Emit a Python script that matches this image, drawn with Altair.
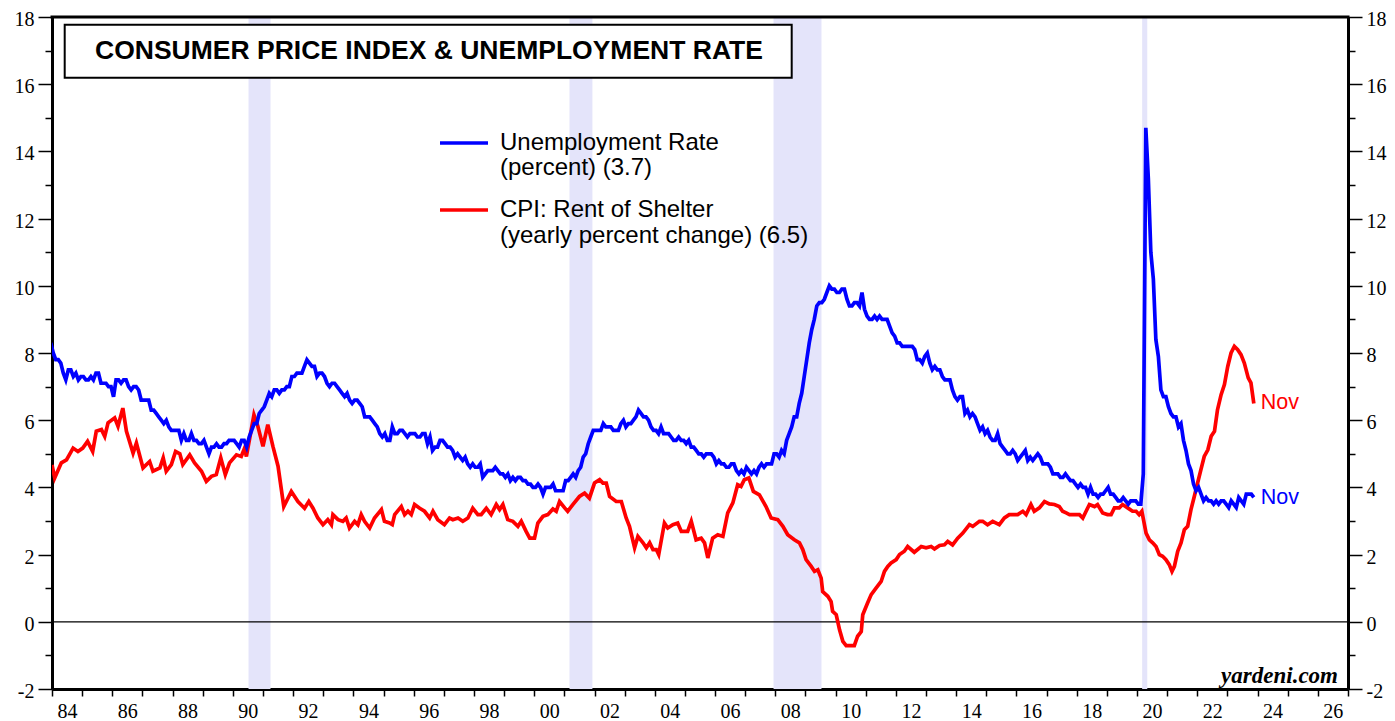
import altair as alt
import pandas as pd

# ---------------- data ----------------
# Unemployment rate, monthly, Dec 1983 .. Nov 2023 (percent)
unemployment_first_month = (1983, 12)
unemployment = [
    8.3,
    8.0, 7.8, 7.8, 7.7, 7.4, 7.2, 7.5, 7.5, 7.3, 7.4, 7.2, 7.3,
    7.3, 7.2, 7.2, 7.3, 7.2, 7.4, 7.4, 7.1, 7.1, 7.1, 7.0, 7.0,
    6.7, 7.2, 7.2, 7.1, 7.2, 7.2, 7.0, 6.9, 7.0, 7.0, 6.9, 6.6,
    6.6, 6.6, 6.6, 6.3, 6.3, 6.2, 6.1, 6.0, 5.9, 6.0, 5.8, 5.7,
    5.7, 5.7, 5.7, 5.4, 5.6, 5.4, 5.4, 5.6, 5.4, 5.4, 5.3, 5.3,
    5.4, 5.2, 5.0, 5.2, 5.2, 5.3, 5.2, 5.2, 5.3, 5.3, 5.4, 5.4,
    5.4, 5.3, 5.2, 5.4, 5.4, 5.2, 5.5, 5.7, 5.9, 5.9, 6.2, 6.3,
    6.4, 6.6, 6.8, 6.7, 6.9, 6.9, 6.8, 6.9, 6.9, 7.0, 7.0, 7.3,
    7.3, 7.4, 7.4, 7.4, 7.6, 7.8, 7.7, 7.6, 7.6, 7.3, 7.4, 7.4,
    7.3, 7.1, 7.0, 7.1, 7.1, 7.0, 6.9, 6.8, 6.7, 6.8, 6.6, 6.5,
    6.6, 6.6, 6.5, 6.4, 6.1, 6.1, 6.1, 6.0, 5.9, 5.8, 5.6, 5.5,
    5.6, 5.4, 5.4, 5.8, 5.6, 5.6, 5.7, 5.7, 5.6, 5.5, 5.6, 5.6,
    5.6, 5.5, 5.5, 5.6, 5.6, 5.3, 5.5, 5.1, 5.2, 5.2, 5.4, 5.4,
    5.3, 5.2, 5.2, 5.1, 4.9, 5.0, 4.9, 4.8, 4.9, 4.7, 4.6, 4.7,
    4.6, 4.6, 4.7, 4.3, 4.4, 4.5, 4.5, 4.5, 4.6, 4.5, 4.4, 4.4,
    4.3, 4.4, 4.2, 4.3, 4.2, 4.3, 4.3, 4.2, 4.2, 4.1, 4.1, 4.0,
    4.0, 4.1, 4.0, 3.8, 4.0, 4.0, 4.0, 4.1, 3.9, 3.9, 3.9, 3.9,
    4.2, 4.2, 4.3, 4.4, 4.3, 4.5, 4.6, 4.9, 5.0, 5.3, 5.5, 5.7,
    5.7, 5.7, 5.7, 5.9, 5.8, 5.8, 5.8, 5.7, 5.7, 5.7, 5.9, 6.0,
    5.8, 5.9, 5.9, 6.0, 6.1, 6.3, 6.2, 6.1, 6.1, 6.0, 5.8, 5.7,
    5.7, 5.6, 5.8, 5.6, 5.6, 5.6, 5.5, 5.4, 5.4, 5.5, 5.4, 5.4,
    5.3, 5.4, 5.2, 5.2, 5.1, 5.0, 5.0, 4.9, 5.0, 5.0, 5.0, 4.9,
    4.7, 4.8, 4.7, 4.7, 4.6, 4.6, 4.7, 4.7, 4.5, 4.4, 4.5, 4.4,
    4.6, 4.5, 4.4, 4.5, 4.4, 4.6, 4.7, 4.6, 4.7, 4.7, 4.7, 5.0,
    5.0, 4.9, 5.1, 5.0, 5.4, 5.6, 5.8, 6.1, 6.1, 6.5, 6.8, 7.3,
    7.8, 8.3, 8.7, 9.0, 9.4, 9.5, 9.5, 9.6, 9.8, 10.0, 9.9, 9.9,
    9.8, 9.8, 9.9, 9.9, 9.6, 9.4, 9.4, 9.5, 9.5, 9.4, 9.8, 9.3,
    9.1, 9.0, 9.0, 9.1, 9.0, 9.1, 9.0, 9.0, 9.0, 8.8, 8.6, 8.5,
    8.3, 8.3, 8.2, 8.2, 8.2, 8.2, 8.2, 8.1, 7.8, 7.8, 7.7, 7.9,
    8.0, 7.7, 7.5, 7.6, 7.5, 7.5, 7.3, 7.2, 7.2, 7.2, 6.9, 6.7,
    6.6, 6.7, 6.7, 6.2, 6.3, 6.1, 6.2, 6.1, 5.9, 5.7, 5.8, 5.6,
    5.7, 5.5, 5.4, 5.4, 5.6, 5.3, 5.2, 5.1, 5.0, 5.0, 5.1, 5.0,
    4.8, 4.9, 5.0, 5.1, 4.8, 4.9, 4.8, 4.9, 5.0, 4.9, 4.7, 4.7,
    4.7, 4.6, 4.4, 4.4, 4.4, 4.3, 4.3, 4.4, 4.3, 4.2, 4.2, 4.1,
    4.0, 4.1, 4.0, 4.0, 3.8, 4.0, 3.8, 3.8, 3.7, 3.8, 3.8, 3.9,
    4.0, 3.8, 3.8, 3.7, 3.6, 3.6, 3.7, 3.6, 3.5, 3.6, 3.6, 3.6,
    3.5, 3.5, 4.4, 14.7, 13.2, 11.0, 10.2, 8.4, 7.9, 6.9, 6.7, 6.7,
    6.4, 6.2, 6.1, 6.1, 5.8, 5.9, 5.4, 5.1, 4.7, 4.5, 4.1, 3.9,
    4.0, 3.8, 3.6, 3.7, 3.6, 3.6, 3.5, 3.6, 3.5, 3.6, 3.6, 3.5,
    3.4, 3.6, 3.5, 3.4, 3.7, 3.6, 3.5, 3.8, 3.8, 3.8, 3.7,
]

# CPI: Rent of shelter, yearly % change (decimal years)
shelter_dates = [
    1984.00, 1984.09, 1984.31, 1984.48, 1984.70, 1984.86, 1985.02, 1985.18, 1985.35, 1985.47,
    1985.64, 1985.75, 1985.86, 1986.08, 1986.19, 1986.35, 1986.47, 1986.69, 1986.80, 1987.02,
    1987.24, 1987.35, 1987.58, 1987.69, 1987.79, 1987.96, 1988.10, 1988.24, 1988.34, 1988.57,
    1988.73, 1988.96, 1989.12, 1989.29, 1989.45, 1989.60, 1989.75, 1989.89, 1990.12, 1990.28,
    1990.39, 1990.45, 1990.70, 1990.83, 1991.00, 1991.16, 1991.33, 1991.50, 1991.69, 1991.94,
    1992.16, 1992.38, 1992.52, 1992.66, 1992.82, 1992.99, 1993.15, 1993.27, 1993.32, 1993.49,
    1993.65, 1993.76, 1993.87, 1994.04, 1994.15, 1994.26, 1994.37, 1994.54, 1994.70, 1994.93,
    1995.03, 1995.20, 1995.29, 1995.37, 1995.59, 1995.70, 1995.81, 1995.92, 1996.03, 1996.20,
    1996.36, 1996.53, 1996.64, 1996.80, 1997.02, 1997.19, 1997.30, 1997.47, 1997.63, 1997.80,
    1997.96, 1998.13, 1998.24, 1998.41, 1998.57, 1998.74, 1998.85, 1998.96, 1999.12, 1999.29,
    1999.46, 1999.57, 1999.73, 1999.85, 2000.01, 2000.12, 2000.29, 2000.45, 2000.62, 2000.73,
    2000.84, 2001.01, 2001.11, 2001.28, 2001.50, 2001.67, 2001.83, 2002.00, 2002.17, 2002.28,
    2002.39, 2002.50, 2002.72, 2002.89, 2003.05, 2003.16, 2003.33, 2003.44, 2003.61, 2003.72,
    2003.83, 2003.94, 2004.05, 2004.13, 2004.32, 2004.43, 2004.60, 2004.76, 2004.88, 2005.09,
    2005.21, 2005.37, 2005.54, 2005.65, 2005.76, 2005.92, 2006.09, 2006.26, 2006.42, 2006.59,
    2006.75, 2006.86, 2006.97, 2007.12, 2007.27, 2007.47, 2007.69, 2007.86, 2008.08, 2008.25,
    2008.41, 2008.63, 2008.80, 2008.91, 2009.02, 2009.19, 2009.30, 2009.41, 2009.52, 2009.57,
    2009.74, 2009.85, 2009.90, 2010.02, 2010.13, 2010.24, 2010.35, 2010.62, 2010.73, 2010.85,
    2010.90, 2011.06, 2011.18, 2011.34, 2011.51, 2011.62, 2011.73, 2011.84, 2012.01, 2012.12,
    2012.28, 2012.39, 2012.61, 2012.84, 2013.00, 2013.17, 2013.28, 2013.45, 2013.61, 2013.72,
    2013.88, 2014.05, 2014.22, 2014.44, 2014.55, 2014.77, 2014.88, 2015.04, 2015.21, 2015.43,
    2015.60, 2015.76, 2016.04, 2016.21, 2016.32, 2016.48, 2016.59, 2016.76, 2016.93, 2017.09,
    2017.26, 2017.42, 2017.53, 2017.65, 2017.76, 2018.09, 2018.20, 2018.31, 2018.42, 2018.59,
    2018.69, 2018.86, 2019.02, 2019.14, 2019.25, 2019.41, 2019.52, 2019.69, 2019.85, 2019.97,
    2020.07, 2020.16, 2020.30, 2020.41, 2020.52, 2020.63, 2020.74, 2020.85, 2020.96, 2021.07,
    2021.16, 2021.24, 2021.35, 2021.46, 2021.57, 2021.68, 2021.79, 2021.90, 2022.01, 2022.12,
    2022.23, 2022.35, 2022.46, 2022.57, 2022.67, 2022.79, 2022.90, 2023.01, 2023.12, 2023.23,
    2023.34, 2023.45, 2023.56, 2023.69, 2023.78, 2023.875,
]
shelter_values = [
    4.67, 4.28, 4.73, 4.82, 5.17, 5.07, 5.17, 5.37, 5.07, 5.67,
    5.72, 5.52, 5.92, 6.07, 5.82, 6.36, 5.67, 5.02, 5.32, 4.58,
    4.77, 4.48, 4.58, 4.88, 4.48, 4.68, 5.07, 5.00, 4.68, 4.97,
    4.73, 4.48, 4.18, 4.33, 4.38, 4.88, 4.38, 4.73, 4.97, 4.92,
    5.17, 4.92, 6.16, 5.82, 5.22, 5.87, 5.22, 4.63, 3.43, 3.88,
    3.58, 3.38, 3.58, 3.38, 3.09, 2.89, 3.04, 2.89, 3.19, 3.04,
    2.99, 3.09, 2.79, 2.99, 2.89, 3.19, 2.99, 2.79, 3.09, 3.34,
    2.99, 2.94, 2.89, 3.19, 3.43, 3.19, 3.29, 3.19, 3.49, 3.38,
    3.29, 3.09, 3.29, 3.04, 2.89, 3.09, 3.04, 3.09, 2.99, 3.09,
    3.38, 3.19, 3.19, 3.38, 3.19, 3.49, 3.34, 3.49, 3.04, 2.99,
    2.84, 2.99, 2.69, 2.49, 2.49, 2.94, 3.14, 3.19, 3.36, 3.29,
    3.58, 3.39, 3.29, 3.49, 3.73, 3.83, 3.68, 4.13, 4.23, 4.13,
    4.13, 3.73, 3.58, 3.58, 3.09, 2.84, 2.20, 2.54, 2.35, 2.20,
    2.35, 2.15, 2.15, 2.00, 2.94, 2.79, 2.89, 2.94, 2.69, 2.69,
    2.99, 2.44, 2.49, 2.35, 1.90, 2.49, 2.59, 2.54, 3.24, 3.54,
    4.08, 4.03, 4.23, 4.28, 3.88, 3.78, 3.43, 3.09, 3.04, 2.84,
    2.59, 2.44, 2.35, 2.15, 1.85, 1.65, 1.50, 1.55, 1.30, 0.90,
    0.76, 0.60, 0.31, 0.21, -0.24, -0.58, -0.71, -0.71, -0.43, -0.29,
    0.21, 0.56, 0.81, 1.00, 1.20, 1.50, 1.65, 1.75, 1.85, 2.00,
    2.10, 2.24, 2.07, 2.24, 2.20, 2.24, 2.17, 2.27, 2.29, 2.39,
    2.29, 2.49, 2.64, 2.89, 2.84, 2.99, 2.99, 2.89, 2.99, 2.89,
    3.09, 3.19, 3.19, 3.29, 3.19, 3.49, 3.29, 3.39, 3.58, 3.51,
    3.49, 3.43, 3.29, 3.24, 3.19, 3.19, 3.09, 3.29, 3.49, 3.43,
    3.49, 3.24, 3.19, 3.19, 3.39, 3.39, 3.49, 3.39, 3.29, 3.29,
    3.19, 3.29, 2.64, 2.44, 2.35, 2.24, 2.00, 1.95, 1.85, 1.70,
    1.50, 1.65, 2.10, 2.35, 2.74, 2.84, 3.34, 3.73, 4.13, 4.53,
    4.92, 5.12, 5.52, 5.67, 6.31, 6.76, 7.06, 7.60, 8.00, 8.20,
    8.10, 7.95, 7.70, 7.26, 7.11, 6.50,
]

# Recession periods (decimal years)
recession_start = [1990.52, 2001.17, 2007.94, 2020.17]
recession_end = [1991.25, 2001.93, 2009.53, 2020.34]

title_text = "CONSUMER PRICE INDEX & UNEMPLOYMENT RATE"
legend_unemp = ["Unemployment Rate", "(percent) (3.7)"]
legend_cpi = ["CPI: Rent of Shelter", "(yearly percent change) (6.5)"]
end_label = "Nov"
source_text = "yardeni.com"

x_domain = [1984, 2027]
y_domain = [-2, 18]

# ---------------- tables ----------------
y0, m0 = unemployment_first_month
unemp_df = pd.DataFrame({
    "date": [y0 + (m0 - 1 + i + 0.5) / 12 for i in range(len(unemployment))],
    "value": unemployment,
})
cpi_df = pd.DataFrame({"date": shelter_dates, "value": shelter_values})
rec_df = pd.DataFrame({"start": recession_start, "end": recession_end})
one = pd.DataFrame({"k": [0]})

W, H = 1296, 672
BLUE = "#0000FF"
RED = "#FF0000"
SANS = "Liberation Sans"
SERIF = "Liberation Serif"

x_scale = alt.Scale(domain=x_domain, nice=False, zero=False)
y_scale = alt.Scale(domain=y_domain, nice=False, zero=False)

x_axis = alt.Axis(
    values=list(range(x_domain[0], x_domain[1] + 1)),
    labelExpr="datum.value % 2 == 0 ? substring(toString(datum.value), 2, 4) : ''",
    labelOffset=15, labelFlush=False, labelBound=False, labelOverlap=False,
    tickSize=7, tickWidth=1.5, tickColor="black", labelPadding=5,
    labelFont=SERIF, labelFontSize=20, labelColor="black",
    domain=True, domainColor="black", domainWidth=3,
    grid=False, title=None,
)

def y_axis(orient):
    return alt.Axis(
        orient=orient,
        values=list(range(y_domain[0], y_domain[1] + 1)),
        labelExpr="datum.value % 2 == 0 ? toString(datum.value) : ''",
        tickSize={"condition": {"test": "datum.value % 2 == 0", "value": 14}, "value": 7},
        tickWidth=1.5, tickColor="black", labelPadding=4, labelOffset=2.5,
        labelFont=SERIF, labelFontSize=20, labelColor="black",
        labelOverlap=False, labelBound=False, labelFlush=False,
        domain=True, domainColor="black", domainWidth=3,
        grid=False, title=None,
    )

X = alt.X("date:Q", scale=x_scale, axis=x_axis)

recessions = alt.Chart(rec_df).mark_rect(color="#E4E4FA").encode(
    x=alt.X("start:Q", scale=x_scale, axis=x_axis), x2="end:Q"
)

zero_line = alt.Chart(one).mark_rule(color="black", strokeWidth=1.2).encode(
    y=alt.Y("z:Q", scale=y_scale, axis=y_axis("left"))
).transform_calculate(z="0")

top_border = alt.Chart(one).mark_rule(color="black", strokeWidth=3).encode(
    x=alt.value(-1.5), x2=alt.value(W + 1.5), y=alt.value(0)
)

title_box = alt.Chart(one).mark_rect(fill="white", stroke="black", strokeWidth=2).encode(
    x=alt.value(12.7), x2=alt.value(739.7), y=alt.value(7.7), y2=alt.value(60.7)
)
title_label = alt.Chart(one).mark_text(
    text=title_text, font=SANS, fontSize=26.5, fontWeight="bold", color="black",
    align="center", baseline="middle"
).encode(x=alt.value(377), y=alt.value(34))

cpi_line = alt.Chart(cpi_df).mark_line(color=RED, strokeWidth=3.7, clip=True).encode(
    x=X, y=alt.Y("value:Q", scale=y_scale, axis=y_axis("left"))
)

leg_rule_u = alt.Chart(one).mark_rule(color=BLUE, strokeWidth=3.7).encode(
    x=alt.value(388), x2=alt.value(436), y=alt.value(126)
)
leg_rule_c = alt.Chart(one).mark_rule(color=RED, strokeWidth=3.7).encode(
    x=alt.value(388), x2=alt.value(436), y=alt.value(193)
)

def leg_text(txt, yy):
    return alt.Chart(one).mark_text(
        text=txt, font=SANS, fontSize=24, color="black", align="left", baseline="middle"
    ).encode(x=alt.value(448), y=alt.value(yy))

legend_texts = [
    leg_text(legend_unemp[0], 126), leg_text(legend_unemp[1], 151),
    leg_text(legend_cpi[0], 193), leg_text(legend_cpi[1], 219),
]

cpi_end = alt.Chart(cpi_df.tail(1)).mark_text(
    text=end_label, font=SANS, fontSize=21.5, color=RED, align="left", baseline="middle", dx=7
).encode(x=X, y=alt.Y("value:Q", scale=y_scale, axis=y_axis("left")))

unemp_end = alt.Chart(unemp_df.tail(1)).mark_text(
    text=end_label, font=SANS, fontSize=21.5, color=BLUE, align="left", baseline="middle", dx=7, dy=1
).encode(x=X, y=alt.Y("value:Q", scale=y_scale, axis=y_axis("left")))

source = alt.Chart(one).mark_text(
    text=source_text, font=SERIF, fontSize=23, fontWeight="bold", fontStyle="italic",
    color="black", align="right", baseline="middle"
).encode(x=alt.value(1286), y=alt.value(659))

left_part = alt.layer(
    recessions, zero_line, title_box, title_label, cpi_line,
    leg_rule_u, leg_rule_c, *legend_texts, cpi_end, unemp_end, source, top_border
)

unemp_line = alt.Chart(unemp_df).mark_line(color=BLUE, strokeWidth=3.7, clip=True).encode(
    x=X, y=alt.Y("value:Q", scale=y_scale, axis=y_axis("right"))
)

chart = alt.layer(left_part, unemp_line).resolve_scale(y="independent").properties(
    width=W, height=H,
    padding={"left": 44, "top": 9, "right": 39, "bottom": 32},
    autosize=alt.AutoSizeParams(type="none"),
).configure_view(
    fill="#FFFFE3", stroke="black", strokeWidth=3
).configure(background="white")

chart.save("out.html", embed_options={"renderer": "svg", "actions": False})
